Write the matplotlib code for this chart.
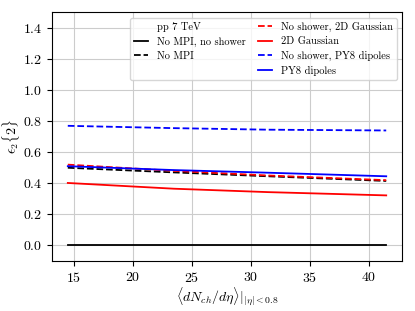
import matplotlib
matplotlib.use("Agg")
import matplotlib.pyplot as plt
from matplotlib.lines import Line2D

plt.rcParams['font.family'] = 'serif'
plt.rcParams['font.serif'] = ['cmr10']
plt.rcParams['mathtext.fontset'] = 'cm'
plt.rcParams['axes.formatter.use_mathtext'] = True

# multiplicity bins
nch = [14.5, 23.5, 31.5, 41.5]

no_mpi_no_shower = [0.0, 0.0, 0.0, 0.0]
no_mpi = [0.500, 0.470, 0.445, 0.415]
no_shower_gauss = [0.520, 0.480, 0.450, 0.420]
gauss = [0.402, 0.365, 0.343, 0.322]
no_shower_py8 = [0.770, 0.755, 0.745, 0.740]
py8 = [0.510, 0.485, 0.468, 0.445]

fig = plt.figure(figsize=(4.15, 3.11), dpi=100)
ax = fig.add_axes([0.125, 0.161, 0.844, 0.799])

ax.plot(nch, no_mpi_no_shower, color='black', lw=1.3, label='No MPI, no shower')
ax.plot(nch, no_mpi, color='black', ls='--', lw=1.3, label='No MPI')
ax.plot(nch, no_shower_gauss, color='red', ls='--', lw=1.3, label='No shower, 2D Gaussian')
ax.plot(nch, gauss, color='red', lw=1.3, label='2D Gaussian')
ax.plot(nch, no_shower_py8, color='blue', ls='--', lw=1.3, label='No shower, PY8 dipoles')
ax.plot(nch, py8, color='blue', lw=1.3, label='PY8 dipoles')

ax.set_ylim(-0.1, 1.5)
ax.set_xticks([15, 20, 25, 30, 35, 40])
ax.grid(True, color='#cccccc', lw=0.8)
ax.set_xlabel(r'$\langle dN_{ch}/d\eta\rangle|_{|\eta|<0.8}$', fontsize=10, labelpad=1)
ax.set_ylabel(r'$\epsilon_2\{2\}$', fontsize=10)
ax.yaxis.set_label_coords(-0.085, 0.5)
ax.tick_params(labelsize=10)

h, l = ax.get_legend_handles_labels()
blank = Line2D([], [], color='none')
handles = [blank, h[0], h[1], blank] + h[2:]
labels = ['pp 7 TeV', l[0], l[1], ''] + l[2:]
ax.legend(handles, labels, ncol=2, loc='upper right', fontsize=7.5,
          handlelength=1.4, columnspacing=1.2, labelspacing=0.45)

fig.savefig('out.png', dpi=100)
